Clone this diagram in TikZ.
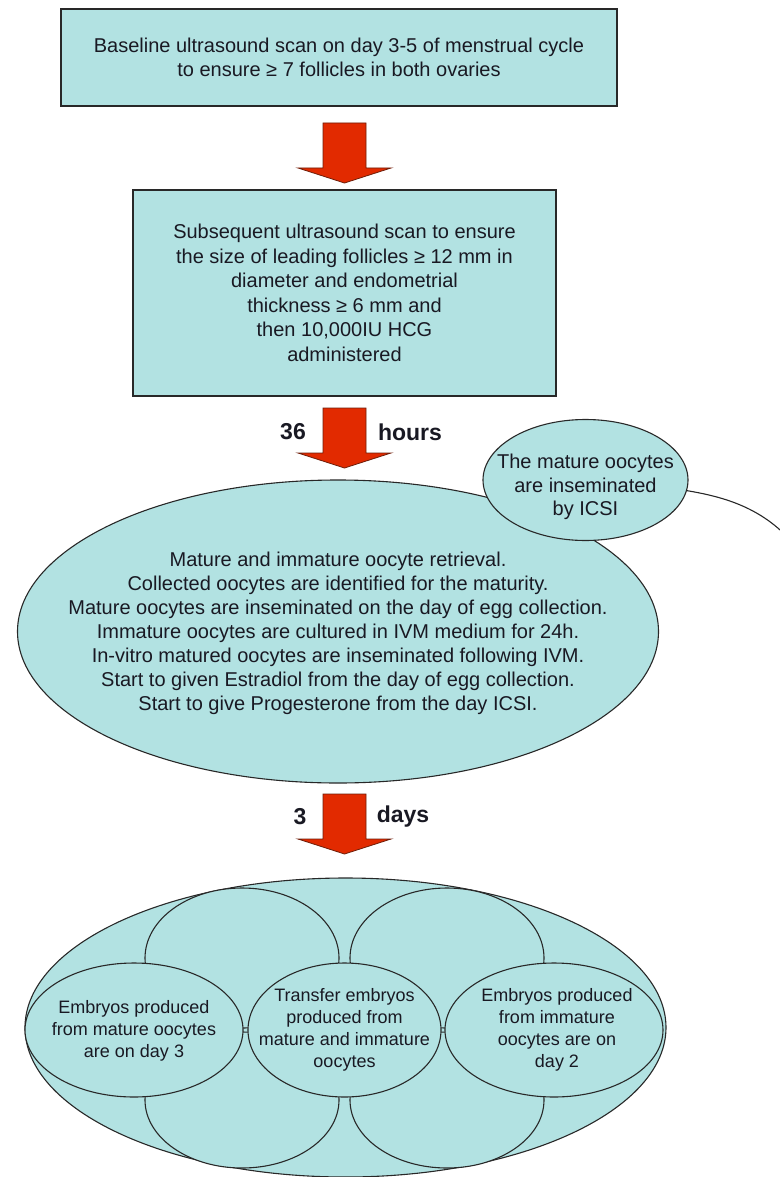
\documentclass[tikz,border=0pt]{standalone}
\usepackage{fontspec}
\setmainfont{Liberation Sans}
\usetikzlibrary{shapes.geometric}
\definecolor{cyanfill}{RGB}{178,226,226}
\definecolor{arrowred}{RGB}{226,42,0}
\definecolor{arrowedge}{RGB}{110,30,10}
\definecolor{inkline}{RGB}{40,40,40}
\definecolor{inktext}{RGB}{25,25,35}
\tikzset{
  blockarrow/.pic={
    \draw[fill=arrowred, draw=arrowedge, line width=0.8pt, line join=miter]
      (-21.5,0) -- (21.5,0) -- (21.5,45) -- (46.5,45) -- (0,60)
      -- (-46.5,45) -- (-21.5,45) -- cycle;
  }
}
\begin{document}
\begin{tikzpicture}[x=1pt,y=-1pt,
  stepbox/.style={rectangle, draw=inkline, line width=1.2pt, fill=cyanfill,
    inner sep=0pt, align=center, text=inktext, font=\fontsize{20}{24.5}\selectfont},
  oval/.style={ellipse, draw=inkline, line width=1.1pt, fill=cyanfill, inner sep=0pt},
  bigtext/.style={align=center, text=inktext, inner sep=0pt, font=\fontsize{20}{24}\selectfont},
  icsitext/.style={align=center, text=inktext, inner sep=0pt, font=\fontsize{20}{23.5}\selectfont},
  smalltext/.style={align=center, text=inktext, inner sep=0pt, font=\fontsize{18}{22}\selectfont},
  timelabel/.style={text=inktext, inner sep=0pt, font=\fontsize{23}{27}\selectfont\bfseries}
]
\useasboundingbox (0,0) rectangle (779,1177);
\fill[white] (0,0) rectangle (779,1177);

% top boxes
\node[stepbox, minimum width=556pt, minimum height=97pt] (box1) at (339,57.5)
  {Baseline ultrasound scan on day 3-5 of menstrual cycle\\to ensure ≥ 7 follicles in both ovaries};
\node[stepbox, minimum width=423pt, minimum height=206pt] (box2) at (344.5,293)
  {Subsequent ultrasound scan to ensure\\the size of leading follicles ≥ 12 mm in\\diameter and endometrial\\thickness ≥ 6 mm and\\then 10,000IU HCG\\administered};

% retrieval ellipse
\node[oval, minimum width=641pt, minimum height=303pt,
  label={[bigtext, yshift=-1.5pt]center:{Mature and immature oocyte retrieval.\\Collected oocytes are identified for the maturity.\\Mature oocytes are inseminated on the day of egg collection.\\Immature oocytes are cultured in IVM medium for 24h.\\In-vitro matured oocytes are inseminated following IVM.\\Start to given Estradiol from the day of egg collection.\\Start to give Progesterone from the day ICSI.}}]
  (retrieval) at (338,631.5) {};
\node[oval, minimum width=205pt, minimum height=121pt,
  label={[icsitext, yshift=-7pt]center:{The mature oocytes\\are inseminated\\by ICSI}}]
  (icsi) at (585.5,480) {};
\coordinate (curveend) at (792,542);
\draw[draw=inkline, line width=1.1pt] (icsi.-6) .. controls (725,497) and (762,508) .. (curveend);

% block arrows
\coordinate (arrowA) at (344.5,123);
\coordinate (arrowB) at (344.5,408);
\coordinate (arrowC) at (344.5,794);
\pic at (arrowA) {blockarrow};
\pic at (arrowB) {blockarrow};
\pic at (arrowC) {blockarrow};
\node[timelabel] (lab36) at (293,432) {36};
\node[timelabel] (labhours) at (410,432) {hours};
\node[timelabel] (lab3) at (300,817) {3};
\node[timelabel] (labdays) at (403,817) {days};

% embryo cluster
\node[oval, minimum width=641pt, minimum height=299pt] (outer) at (345.5,1027.5) {};
\node[oval, minimum width=194pt, minimum height=140pt] (topleft) at (242,958) {};
\node[oval, minimum width=194pt, minimum height=140pt] (topright) at (447,958) {};
\node[oval, minimum width=194pt, minimum height=136pt] (botleft) at (242,1100) {};
\node[oval, minimum width=194pt, minimum height=136pt] (botright) at (447,1100) {};
\node[oval, minimum width=218pt, minimum height=134pt,
  label={[smalltext, yshift=-1pt]center:{Embryos produced\\from mature oocytes\\are on day 3}}]
  (midleft) at (134,1030) {};
\node[oval, minimum width=193pt, minimum height=134pt,
  label={[smalltext]center:{Transfer embryos\\produced from\\mature and immature\\oocytes}}]
  (midcenter) at (344.5,1030) {};
\node[oval, minimum width=218pt, minimum height=134pt,
  label={[smalltext, xshift=3pt]center:{Embryos produced\\from immature\\oocytes are on\\day 2}}]
  (midright) at (554,1030) {};
\end{tikzpicture}
\end{document}
